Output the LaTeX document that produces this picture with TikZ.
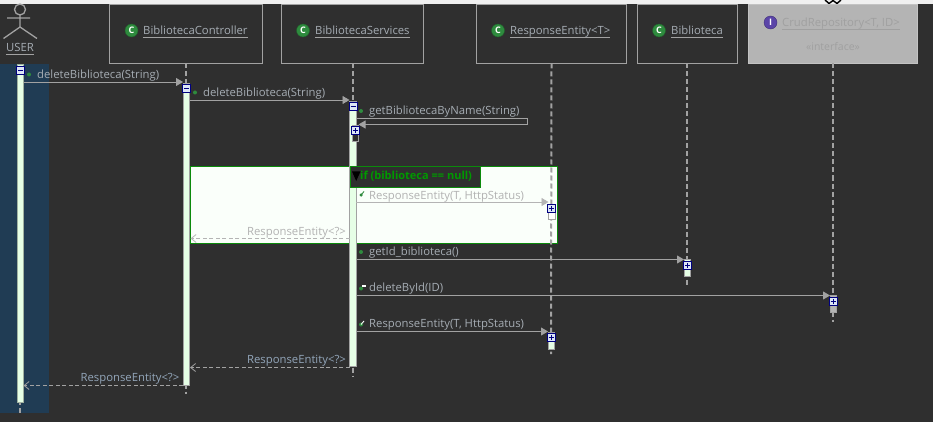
\documentclass[tikz,border=0pt]{standalone}
\usepackage{fontspec}
\setmainfont{Open Sans}
\usetikzlibrary{arrows.meta}
\definecolor{bgc}{HTML}{2F2F2F}
\definecolor{selc}{HTML}{203C54}
\definecolor{linec}{HTML}{A2A2A2}
\definecolor{txtc}{HTML}{A6ADB4}
\definecolor{retc}{HTML}{93A6BA}
\definecolor{actc}{HTML}{E6FFE6}
\definecolor{greenc}{HTML}{0B8A0B}
\definecolor{iconc}{HTML}{2E8B3E}
\definecolor{purc}{HTML}{5B45A8}
\definecolor{crudc}{HTML}{B4B4B4}
\definecolor{crudt}{HTML}{A0A0A0}
\definecolor{navyc}{HTML}{000080}
\definecolor{plusc}{HTML}{DCE6F5}
\definecolor{fragt}{HTML}{B2B2B2}
\tikzset{
  x=1pt,y=-1pt,
  hdr/.style={draw=linec,line width=0.9pt,fill=bgc,inner sep=0pt,minimum height=58.5pt},
  lbl/.style={inner sep=0pt,font=\fontsize{11.3}{13}\selectfont,text=txtc,anchor=west,text height=8.5pt,text depth=2.5pt},
  ul/.style={draw=linec,line width=1.2pt},
  life/.style={draw=linec,line width=2pt,dash pattern=on 5pt off 3pt},
  act/.style={draw=linec,line width=0.8pt,fill=actc,inner sep=0pt,minimum width=6.5pt},
  msg/.style={draw=linec,line width=0.9pt,-{Triangle[length=7pt,width=8pt,fill=linec]}},
  ret/.style={draw=linec,line width=0.8pt,dash pattern=on 4pt off 2.5pt,-{Straight Barb[length=5pt,width=8pt]}},
  coll/.style={draw=navyc,line width=0.9pt,fill=plusc,inner sep=0pt,minimum size=8pt},
  cicon/.style={circle,fill=iconc,draw=iconc!70!black,line width=0.4pt,inner sep=0pt,minimum size=13pt,text=white,font=\fontsize{9}{9}\selectfont\bfseries},
  dot/.style={circle,fill=iconc,inner sep=0pt,minimum size=4pt},
}
\newcommand{\collbox}[4]{% name, x, y, sign
  \node[coll] (#1) at (#2,#3) {};
  \draw[navyc,line width=0.9pt] ([xshift=-2.5pt]#1.center) -- ([xshift=2.5pt]#1.center);
  \if#4+\draw[navyc,line width=0.9pt] ([yshift=-2.5pt]#1.center) -- ([yshift=2.5pt]#1.center);\fi
}
\begin{document}
\begin{tikzpicture}
\useasboundingbox (0,0) rectangle (933,422);
\fill[bgc] (0,0) rectangle (933,422);
\fill[white!94!black] (0,0) rectangle (933,4);
\draw[black,line width=1.4pt] (825,0) -- (829,3.5) -- (833,0.5) -- (837,3.5) -- (841,0);
\fill[selc] (0,64) rectangle (49,413);

% fragment
\node[draw=greenc,line width=1pt,fill=white!98!green,inner sep=0pt,minimum width=367pt,minimum height=76pt] (frag) at (373.5,205) {};

% headers
\node[hdr,minimum width=153pt] (bc) at (186,33.8) {};
\node[hdr,minimum width=142pt] (bs) at (352.5,33.8) {};
\node[hdr,minimum width=150pt] (re) at (551.5,33.8) {};
\node[hdr,minimum width=100pt] (bi) at (687,33.8) {};
\node[hdr,minimum width=169pt,draw=crudc!80!white,fill=crudc] (cr) at (833,33.8) {};

% lifeline ends
\coordinate (uTop) at (20,64);
\coordinate (uEnd) at (20,413);
\coordinate (bcEnd) at (186,394);
\coordinate (bsEnd) at (352.5,376);
\coordinate (reEnd) at (551,354);
\coordinate (biEnd) at (687,286);
\coordinate (crEnd) at (833,322);
\draw[life] (uTop) -- (uEnd);
\draw[life] (bc.south) -- (bcEnd);
\draw[life] (bs.south) -- (bsEnd);
\draw[life] (re.south) -- (reEnd);
\draw[life] (bi.south) -- (biEnd);
\draw[life] (cr.south) -- (crEnd);

% actor
\draw[draw=linec,line width=1.3pt] (20,9.5) circle (5.5);
\draw[draw=linec,line width=1.3pt] (20,15) -- (20,27) (7,18) -- (30,18) (20,27) -- (3.5,38.5) (20,27) -- (37,38.5);
\node[lbl,anchor=center] (user) at (20,49) {USER};
\draw[ul] (user.south west) -- (user.south east);

% header labels
\node[cicon] (i1) at (131.5,30.5) {C};
\node[lbl] (t1) at (143,31.5) {BibliotecaController};
\draw[ul] (t1.south west) -- (t1.south east);
\node[cicon] (i2) at (303,30.5) {C};
\node[lbl] (t2) at (315,31.5) {BibliotecaServices};
\draw[ul] (t2.south west) -- (t2.south east);
\node[cicon] (i3) at (498,30.5) {C};
\node[lbl] (t3) at (510,31.5) {ResponseEntity<T>};
\draw[ul] (t3.south west) -- (t3.south east);
\node[cicon] (i4) at (659,30.5) {C};
\node[lbl] (t4) at (671,31.5) {Biblioteca};
\draw[ul] (t4.south west) -- (t4.south east);
\node[cicon,fill=purc,draw=purc!70!black] (i5) at (770.5,22.5) {I};
\node[lbl,text=crudt] (t5) at (782,23.5) {CrudRepository<T, ID>};
\draw[ul,draw=crudt] (t5.south west) -- (t5.south east);
\node[lbl,anchor=center,text=crudt,font=\fontsize{10.5}{12}\selectfont] (t6) at (833,48) {«interface»};

% activations
\node[act,minimum height=338pt,draw=actc!70!black] (aU) at (20.2,233) {};
\node[act,minimum height=302pt] (aC) at (186.2,234) {};
\node[act,minimum height=265pt] (aS) at (352.7,233.5) {};
\node[act,minimum height=16pt,fill=bgc] (aS2) at (355.5,133) {};
\node[act,minimum height=15pt,fill=white] (aR1) at (551.8,212) {};
\node[act,minimum height=17pt] (aB) at (687.5,267.5) {};
\node[act,minimum height=17pt,fill=crudc] (aCr) at (833.2,303.5) {};
\node[act,minimum height=17pt] (aR2) at (551.5,340.5) {};

% fragment label
\node[draw=greenc,line width=1pt,fill=bgc,inner sep=0pt,minimum width=130pt,minimum height=20pt] (fl) at (415,177) {};
\fill[black] (352,171.5) -- (360.5,171.5) -- (356.2,181) -- cycle;
\node[lbl,text=green!60!black,font=\fontsize{11}{13}\selectfont\bfseries] (ft) at (360,176.5) {if (biblioteca == null)};

% messages
\coordinate (m1a) at (23.5,82); \coordinate (m1b) at (183,82);
\draw[msg] (m1a) -- (m1b);
\coordinate (m2a) at (189.5,100); \coordinate (m2b) at (349.5,100);
\draw[msg] (m2a) -- (m2b);
\coordinate (m3a) at (356,118); \coordinate (m3b) at (527.5,118);
\coordinate (m3c) at (527.5,124.5); \coordinate (m3d) at (358.5,124.5);
\draw[msg] (m3a) -- (m3b) -- (m3c) -- (m3d);
\coordinate (m4a) at (356,202); \coordinate (m4b) at (548.5,202);
\draw[msg,draw=crudc,-{Triangle[length=7pt,width=8pt,fill=crudc]}] (m4a) -- (m4b);
\coordinate (m5a) at (349.5,238.5); \coordinate (m5b) at (190.5,238.5);
\draw[ret,draw=crudc] (m5a) -- (m5b);
\coordinate (m6a) at (356,259.5); \coordinate (m6b) at (684,259.5);
\draw[msg] (m6a) -- (m6b);
\coordinate (m7a) at (356,295.5); \coordinate (m7b) at (830,295.5);
\draw[msg] (m7a) -- (m7b);
\coordinate (m8a) at (356,331.5); \coordinate (m8b) at (548,331.5);
\draw[msg] (m8a) -- (m8b);
\coordinate (m9a) at (349.5,367.5); \coordinate (m9b) at (190,367.5);
\draw[ret] (m9a) -- (m9b);
\coordinate (m10a) at (183,385.5); \coordinate (m10b) at (23.5,385.5);
\draw[ret] (m10a) -- (m10b);

% collapse boxes
\collbox{c1}{20.5}{70.5}{-}
\collbox{c2}{186.5}{88.5}{-}
\collbox{c3}{353}{106.5}{-}
\collbox{c4}{355.5}{130.5}{+}
\collbox{c5}{551.5}{208.5}{+}
\collbox{c6}{687.5}{265.5}{+}
\collbox{c7}{833}{301.5}{+}
\collbox{c8}{551}{337.5}{+}

% message labels
\node[dot] (d1) at (29,74.5) {};
\node[lbl] (l1) at (37,75.5) {deleteBiblioteca(String)};
\node[dot] (d2) at (195,92.5) {};
\node[lbl] (l2) at (203,93.5) {deleteBiblioteca(String)};
\node[dot] (d3) at (361,111) {};
\node[lbl] (l3) at (369,111.5) {getBibliotecaByName(String)};
\node[dot,minimum size=3.5pt] (d4) at (361,195) {};
\draw[iconc,line width=0.9pt] (d4.center) -- ++(3,-3.5);
\node[lbl,text=fragt] (l4) at (369,196) {ResponseEntity(T, HttpStatus)};
\node[lbl,text=fragt,anchor=east] (l5) at (346,232) {ResponseEntity<?>};
\node[dot] (d6) at (361,252) {};
\node[lbl] (l6) at (369,252.5) {getId\_biblioteca()};
\node[dot] (d7) at (361,288.5) {};
\fill[white] (362,284.5) rectangle (365.5,287);
\node[lbl] (l7) at (369,288.5) {deleteById(ID)};
\node[dot] (d8) at (361,324.5) {};
\draw[white,line width=0.9pt] (d8.center) -- ++(3,-3.5);
\node[lbl] (l8) at (369,324.5) {ResponseEntity(T, HttpStatus)};
\node[lbl,text=retc,anchor=east] (l9) at (346,360.5) {ResponseEntity<?>};
\node[lbl,text=retc,anchor=east] (l10) at (179.5,378.5) {ResponseEntity<?>};
\end{tikzpicture}
\end{document}
